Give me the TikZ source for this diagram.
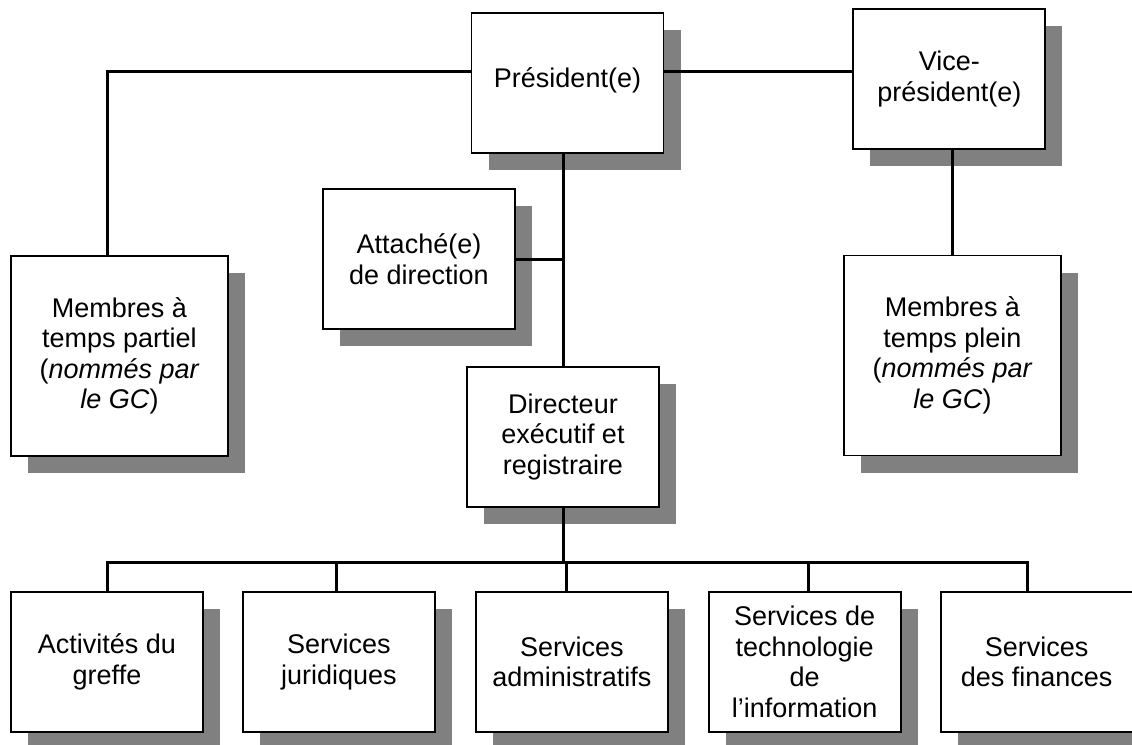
\documentclass[tikz,border=0pt]{standalone}
\usepackage{fontspec}
\setmainfont{Liberation Sans}
\usetikzlibrary{positioning,shadows}

\begin{document}
\begin{tikzpicture}[
  x=1pt, y=-1pt,
  font=\fontsize{27}{30.5}\selectfont,
  box/.style={draw, line width=1.9pt, fill=white, minimum width=192pt,
              minimum height=140pt, align=center, inner sep=2pt,
              drop shadow={shadow xshift=17pt, shadow yshift=-17pt,
                           fill=black!50, opacity=1}},
  bigbox/.style={box, minimum width=217pt, minimum height=200pt},
  link/.style={line width=3pt}
]
\useasboundingbox (0,0) rectangle (1132,744);
% top level
\node[box] (pres) at (567.5,83) {\raisebox{10pt}{Président(e)}};
\node[box, right=188pt of pres, yshift=4pt] (vice) {Vice-\\président(e)};
\node[box] (att) at (419,259) {Attaché(e)\\de direction};
\node[box, below=212pt of pres, xshift=-4.5pt] (dir) {Directeur\\exécutif et\\registraire};
\node[bigbox] (partiel) at (119.5,356) {Membres à\\temps partiel\\(\textit{nommés par}\\\textit{le GC})};
\node[bigbox] (plein) at (952.5,355.5) {Membres à\\temps plein\\(\textit{nommés par}\\\textit{le GC})};
% services
\node[box] (greffe) at (107,662) {Activités du\\greffe};
\node[box, right=38pt of greffe] (jur) {Services\\juridiques};
\node[box, right=39pt of jur] (admin) {Services\\administratifs};
\node[box, right=39pt of admin] (tech) {Services de\\technologie\\de\\l’information};
\node[box, right=38pt of tech] (fin) {Services\\des finances};

\draw[link] ([yshift=12pt]pres.west) -| ([xshift=-12.5pt]partiel.north);
\draw[link] ([yshift=12pt]pres.east) -- ([yshift=12pt]pres.east -| vice.west);
\draw[link] (pres.south -| dir.north) -- (dir.north);
\draw[link] (att.east) -- (att.east -| dir.north);
\draw[link] ([xshift=3pt]vice.south) -- ([xshift=3pt]vice.south |- plein.north);
\coordinate[below=55pt of dir.south] (bus);
\draw[link] (dir.south) -- (bus);
\draw[link] (greffe.north) |- ([xshift=-9pt]fin.north |- bus) -- ([xshift=-9pt]fin.north);
\foreach \b/\dx in {jur/-2, admin/-5, tech/4}
  \draw[link] ([xshift=\dx pt]\b.north) -- ([xshift=\dx pt]\b.north |- bus);
\end{tikzpicture}
\end{document}
